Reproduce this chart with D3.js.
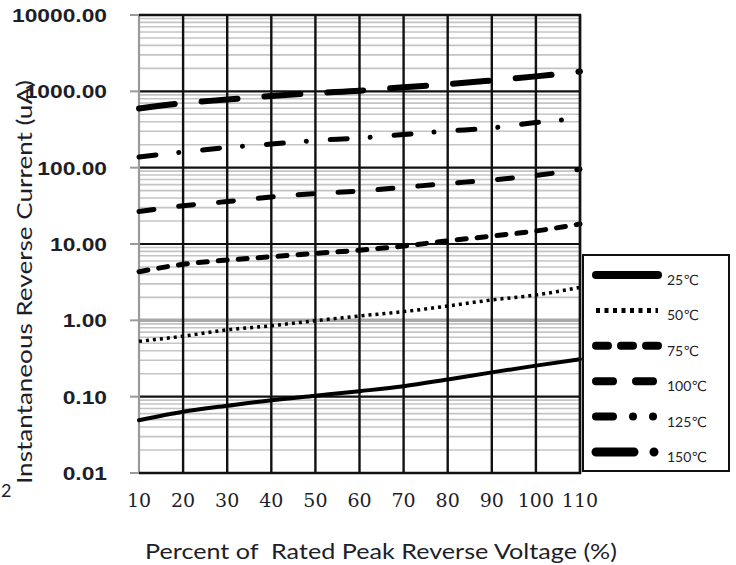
<!DOCTYPE html>
<html>
<head>
<meta charset="utf-8">
<script src="https://cdn.jsdelivr.net/npm/d3@7/dist/d3.min.js"></script>
<style>
  body { margin: 0; background: #fff; }
  svg { display: block; }
</style>
</head>
<body>
<svg id="chart" width="736" height="565"></svg>
<script>
// percent of rated peak reverse voltage
var voltage = [10, 20, 30, 40, 50, 60, 70, 80, 90, 100, 110];

// reverse current in uA
var t25  = [0.049, 0.0635, 0.076, 0.090, 0.103, 0.118, 0.137, 0.168, 0.208, 0.255, 0.31];
var t50  = [0.53, 0.62, 0.75, 0.85, 0.99, 1.14, 1.30, 1.54, 1.85, 2.15, 2.7];
var t75  = [4.34, 5.42, 6.17, 6.8, 7.55, 8.3, 9.4, 11.0, 12.7, 14.8, 18.3];
var t100 = [26.7, 31.7, 36, 41.3, 45.9, 49.4, 55.3, 62, 69, 79, 95];
var t125 = [138, 160, 184, 204, 227, 245, 272, 302, 331, 391, 441];
var t150 = [596, 700, 781, 870, 950, 1020, 1130, 1240, 1390, 1570, 1820];

var seriesNames = ["25℃", "50℃", "75℃", "100℃", "125℃", "150℃"];
var seriesValues = [t25, t50, t75, t100, t125, t150];

var yTicks = [0.01, 0.1, 1, 10, 100, 1000, 10000];
var yTickLabels = ["0.01", "0.10", "1.00", "10.00", "100.00", "1000.00", "10000.00"];

// line look of each series (round caps eat into the gaps, so dashes are shortened)
var styles = [
    {w: 4, dash: null, cap: "round", lw: 8, ldash: null, lcap: "round"},
    {w: 3.5, dash: "3,4", cap: "butt", lw: 5, ldash: "4,4.5", lcap: "butt"},
    {w: 5, dash: "9,11", cap: "round", lw: 8, ldash: "12,13", lcap: "round"},
    {w: 5, dash: "15,25", cap: "round", lw: 8, ldash: "17,23", lcap: "round"},
    {w: 5, dash: "17,23,0.01,24", cap: "round", lw: 8, ldash: "17,20,0.01,20,0.01,100", lcap: "round"},
    {w: 6, dash: "36,27", cap: "round", lw: 9, ldash: "38,20,0.01,100", lcap: "round"}
];

var svg = d3.select("#chart");
var x = d3.scaleLinear().domain([10, 110]).range([139, 580]);
var y = d3.scaleLog().domain([0.01, 10000]).range([473, 15]);

var textCol = "#1e1e28";

// minor horizontal grid
var minor = [];
yTicks.slice(0, -1).forEach(function(d) {
    for (var k = 2; k <= 9; k++) minor.push(d * k);
});
svg.append("g").selectAll("line").data(minor).join("line")
    .attr("x1", x(10)).attr("x2", x(110))
    .attr("y1", function(d){ return y(d); })
    .attr("y2", function(d){ return y(d); })
    .attr("stroke", "#c4c4c4").attr("stroke-width", 1.6);

// gray ticks left of the axis
svg.append("g").selectAll("line").data(yTicks).join("line")
    .attr("x1", 130).attr("x2", x(10))
    .attr("y1", function(d){ return y(d); })
    .attr("y2", function(d){ return y(d); })
    .attr("stroke", "#9a9a9a").attr("stroke-width", 2);

// decade lines
svg.append("g").selectAll("line").data(yTicks).join("line")
    .attr("x1", x(10)).attr("x2", x(110))
    .attr("y1", function(d){ return y(d); })
    .attr("y2", function(d){ return y(d); })
    .attr("stroke", function(d){ return d === 1 ? "#a8a8a8" : "#111"; })
    .attr("stroke-width", function(d){ return d === 1 ? 3.5 : 2.2; });

// vertical grid
svg.append("g").selectAll("line").data(voltage.slice(1)).join("line")
    .attr("x1", function(d){ return x(d); })
    .attr("x2", function(d){ return x(d); })
    .attr("y1", y(10000)).attr("y2", y(0.01))
    .attr("stroke", "#111").attr("stroke-width", 2.4);

// left axis line
svg.append("line")
    .attr("x1", x(10)).attr("x2", x(10))
    .attr("y1", y(10000)).attr("y2", y(0.01))
    .attr("stroke", "#9a9a9a").attr("stroke-width", 2.2);

// curves
var line = d3.line()
    .x(function(d){ return x(d[0]); })
    .y(function(d){ return y(d[1]); })
    .curve(d3.curveMonotoneX);

seriesValues.forEach(function(vals, i) {
    var pts = voltage.map(function(v, j){ return [v, vals[j]]; });
    svg.append("path")
        .attr("d", line(pts))
        .attr("fill", "none")
        .attr("stroke", "#000")
        .attr("stroke-width", styles[i].w)
        .attr("stroke-dasharray", styles[i].dash)
        .attr("stroke-linecap", styles[i].cap);
});

// y tick labels
svg.append("g").selectAll("text").data(yTicks).join("text")
    .attr("transform", function(d){ return "translate(107," + (y(d) + 7) + ") scale(1.2,1)"; })
    .attr("text-anchor", "end")
    .attr("font-family", "Liberation Sans, Arial, sans-serif")
    .attr("font-weight", "bold")
    .attr("font-size", 19)
    .attr("fill", textCol)
    .text(function(d, i){ return yTickLabels[i]; });

// x tick labels
svg.append("g").selectAll("text").data(voltage).join("text")
    .attr("x", function(d){ return x(d); })
    .attr("y", 507)
    .attr("text-anchor", "middle")
    .attr("font-family", "DejaVu Serif, serif")
    .attr("font-size", 19)
    .attr("fill", textCol)
    .text(function(d){ return d; });

// axis titles
svg.append("text")
    .attr("x", 145).attr("y", 559)
    .attr("textLength", 472).attr("lengthAdjust", "spacingAndGlyphs")
    .style("white-space", "pre")
    .attr("font-family", "Lato, sans-serif")
    .attr("font-size", 22)
    .attr("fill", textCol)
    .text("Percent of  Rated Peak Reverse Voltage (%)");

svg.append("text")
    .attr("transform", "translate(32,484) rotate(-90)")
    .attr("textLength", 404).attr("lengthAdjust", "spacingAndGlyphs")
    .attr("font-family", "Lato, sans-serif")
    .attr("font-size", 21)
    .attr("fill", textCol)
    .text("Instantaneous Reverse Current (uA)");

// stray glyph at the left edge
svg.append("text")
    .attr("x", 1).attr("y", 497)
    .attr("font-family", "Lato, sans-serif")
    .attr("font-size", 18)
    .attr("fill", textCol)
    .text("2");

// plot frame (top, right, bottom)
svg.append("path")
    .attr("d", "M" + x(10) + "," + y(10000) + "H" + x(110) + "V" + y(0.01) + "H" + x(10))
    .attr("fill", "none").attr("stroke", "#111").attr("stroke-width", 2.4);

// legend
var lg = svg.append("g");
lg.append("rect")
    .attr("x", 583).attr("y", 255).attr("width", 146).attr("height", 216)
    .attr("fill", "#fff").attr("stroke", "#111").attr("stroke-width", 2);

var rowY = d3.scaleLinear().domain([0, 5]).range([275, 452]);
seriesNames.forEach(function(name, i) {
    lg.append("line")
        .attr("x1", 596).attr("x2", 658)
        .attr("y1", rowY(i)).attr("y2", rowY(i))
        .attr("stroke", "#000")
        .attr("stroke-width", styles[i].lw)
        .attr("stroke-dasharray", styles[i].ldash)
        .attr("stroke-linecap", styles[i].lcap);
    lg.append("text")
        .attr("x", 667).attr("y", rowY(i) + 10)
        .attr("font-family", "Lato, DejaVu Sans, sans-serif")
        .attr("font-size", 14)
        .attr("fill", textCol)
        .text(name);
});
</script>
</body>
</html>
